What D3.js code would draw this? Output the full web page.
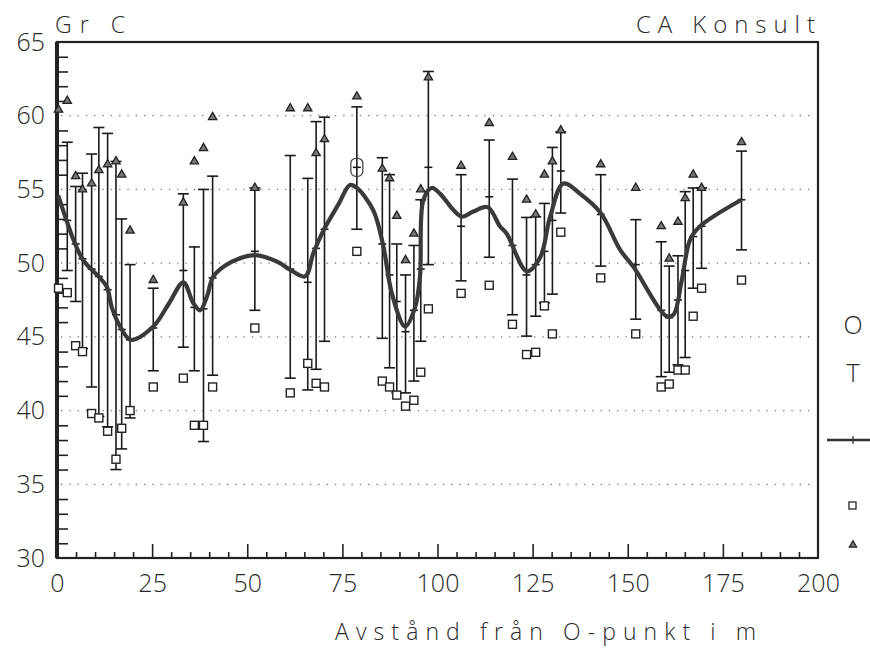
<!DOCTYPE html>
<html lang="sv">
<head>
  <meta charset="UTF-8">
  <title>Gr C</title>
  <style>
    body { margin: 0; background: #fff; }
    text { font-family: "Open Sans", "DejaVu Sans", sans-serif; font-weight: 300; fill: #2a2a2a; }
  </style>
</head>
<body>
  <svg id="svg" width="870" height="649"></svg>
  <script src="https://d3js.org/d3.v7.min.js"></script>
  <script>
    // stations along the line (m)
    const stationX = [0.4, 2.7, 4.9, 6.7, 9.1, 11.0, 13.3, 15.5, 17.0, 19.2, 25.3, 33.2, 36.1, 38.5, 40.9,
      52.0, 61.3, 65.9, 68.1, 70.3, 78.8, 85.5, 87.4, 89.3, 91.6, 93.8, 95.6, 97.6, 106.2, 113.6,
      119.7, 123.4, 125.8, 128.1, 130.2, 132.4, 142.9, 152.1, 158.8, 160.9, 163.2, 165.1, 167.2, 169.4, 179.9]
    const barHigh = [null, 58.2, 55.2, 56.1, 57.4, 59.2, 58.8, 56.9, 53.0, 49.9, 48.3, 54.7, 51.1, 55.0, 55.9,
      55.1, 57.3, 55.75, 59.6, 59.9, 60.6, 57.15, 56.0, 51.3, 49.2, 51.2, 54.3, 63.0, 56.0, 58.35,
      55.7, 53.1, 53.15, 54.05, 57.85, 58.9, 56.0, 52.95, 51.45, 49.8, 50.5, 54.85, 55.1, 55.1, 57.6]
    const barLow = [null, 49.5, 47.4, 44.2, 41.6, 39.6, 38.9, 36.0, 37.4, 39.5, 42.7, 44.3, 42.7, 37.9, 42.4,
      46.8, 42.2, 41.4, 42.8, 44.7, 52.3, 44.9, 42.9, 41.2, 41.2, 42.0, 44.7, 49.9, 48.8, 50.4,
      46.5, 45.05, 46.4, 47.3, 47.9, 53.4, 49.8, 46.2, 42.3, 42.6, 43.1, 43.6, 48.3, 49.65, 50.9]
    const barMid = [null, 52.9, 51.3, 50.3, 49.6, 49.1, 48.2, 46.5, 45.5, 44.8, 45.6, 49.5, 47.0, 46.9, 49.0,
      50.8, 49.6, 48.7, 51.0, 52.3, 56.5, 51.3, 49.2, 47.4, 45.35, 46.8, 49.6, 56.5, 52.5, 54.5,
      51.2, 49.2, 49.9, 50.8, 52.9, 56.25, 53.3, 49.9, 46.8, 46.3, 47.5, 49.5, 51.8, 52.5, 54.3]
    const triVal = [60.4, 61.0, 55.9, 55.0, 55.4, 56.3, 56.7, 56.9, 56.0, 52.2, 48.85, 54.1, 56.9, 57.8, 59.9,
      55.1, 60.5, 60.5, 57.45, 58.4, 61.3, 56.4, 55.75, 53.2, 50.2, 52.0, 55.0, 62.6, 56.6, 59.5,
      57.2, 54.3, 53.3, 56.0, 56.9, 59.0, 56.7, 55.1, 52.5, 50.3, 52.8, 54.4, 56.0, 55.1, 58.2]
    const sqVal = [48.3, 48.0, 44.4, 44.0, 39.8, 39.5, 38.6, 36.7, 38.8, 40.0, 41.6, 42.2, 39.0, 39.0, 41.6,
      45.6, 41.2, 43.2, 41.85, 41.6, 50.8, 42.0, 41.6, 41.05, 40.3, 40.7, 42.6, 46.9, 47.95, 48.5,
      45.85, 43.8, 43.95, 47.1, 45.2, 52.1, 49.0, 45.2, 41.6, 41.8, 42.75, 42.75, 46.4, 48.3, 48.85]

    // smoothed curve
    const curveX = [0.3, 2.5, 4.3, 6.9, 10.9, 13.1, 14.4, 16.6, 19.4, 25.3, 29.5, 33.2, 35.8, 37.6, 39.5, 41.1,
      46, 52.0, 56, 58.6, 61.0, 65.2, 67.4, 70.0, 74, 77.0, 78.8, 83.1, 85.8, 88.0, 91.5, 94.1, 95.4,
      96.3, 98.5, 100.7, 104.2, 106.5, 109.4, 113.2, 116.4, 118.2, 123.5, 127.0, 129.6, 133.1, 137.5,
      142.9, 148, 151.5, 160.2, 162, 164.2, 166.4, 169, 179.9]
    const curveVal = [54.6, 52.9, 51.6, 50.2, 49.1, 48.4, 47.0, 45.7, 44.8, 45.7, 47.3, 48.7, 47.3, 46.8, 47.8, 49.1,
      50.1, 50.55, 50.3, 50.0, 49.6, 49.1, 50.7, 52.2, 54.0, 55.3, 55.1, 53.6, 51.1, 47.95, 45.7, 47.0, 49.1,
      54.3, 55.1, 54.7, 53.6, 53.15, 53.5, 53.8, 52.5, 52.0, 49.45, 50.4, 53.15, 55.4, 54.7,
      53.4, 50.9, 49.75, 46.4, 46.5, 48.85, 51.6, 52.5, 54.3]

    const oMarkX = [78.8]
    const oMarkVal = [56.5]

    const xTicks = [0, 25, 50, 75, 100, 125, 150, 175, 200]
    const yTicks = [30, 35, 40, 45, 50, 55, 60, 65]
    const gridVals = [35, 40, 45, 50, 55, 60]

    const svg = d3.select('#svg')
    const x = d3.scaleLinear().domain([0, 200]).range([57, 818])
    const y = d3.scaleLinear().domain([30, 65]).range([558, 42])

    // dotted grid
    svg.append('g').selectAll('line').data(gridVals).join('line')
      .attr('x1', x(0) + 4).attr('x2', x(200) - 4)
      .attr('y1', d => y(d)).attr('y2', d => y(d))
      .attr('stroke', '#777').attr('stroke-width', 1.2)
      .attr('stroke-dasharray', '1.3,7')

    // minor y ticks (not at multiples of 5)
    const yMinor = d3.range(31, 65).filter(v => v % 5 !== 0)
    svg.append('g')
      .attr('transform', `translate(${x(0)},0)`)
      .call(d3.axisRight(y).tickValues(yMinor).tickSize(11).tickFormat(''))
      .call(g => g.select('.domain').remove())
      .selectAll('line').attr('stroke', '#222').attr('stroke-width', 1.6)

    // x ticks: minor every 5, major every 25
    const xMinor = d3.range(5, 200, 5).filter(v => v % 25 !== 0)
    svg.append('g')
      .attr('transform', `translate(0,${y(30)})`)
      .call(d3.axisTop(x).tickValues(xMinor).tickSize(6).tickFormat(''))
      .call(g => g.select('.domain').remove())
      .selectAll('line').attr('stroke', '#222').attr('stroke-width', 1.6)
    svg.append('g')
      .attr('transform', `translate(0,${y(30)})`)
      .call(d3.axisTop(x).tickValues(d3.range(25, 200, 25)).tickSize(14).tickFormat(''))
      .call(g => g.select('.domain').remove())
      .selectAll('line').attr('stroke', '#222').attr('stroke-width', 1.6)

    // tick labels
    svg.append('g')
      .attr('transform', `translate(0,${y(30)})`)
      .call(d3.axisBottom(x).tickValues(xTicks).tickSize(0).tickPadding(16))
      .call(g => g.select('.domain').remove())
      .selectAll('text').attr('font-size', 25).attr('fill', '#2a2a2a')
      .attr('font-family', '"Open Sans", sans-serif').attr('font-weight', 300)
    svg.append('g')
      .attr('transform', `translate(${x(0)},0)`)
      .call(d3.axisLeft(y).tickValues(yTicks).tickSize(0).tickPadding(12))
      .call(g => g.select('.domain').remove())
      .selectAll('text').attr('font-size', 25).attr('fill', '#2a2a2a')
      .attr('font-family', '"Open Sans", sans-serif').attr('font-weight', 300)

    // frame
    svg.append('rect')
      .attr('x', x(0)).attr('y', y(65))
      .attr('width', x(200) - x(0)).attr('height', y(30) - y(65))
      .attr('fill', 'none').attr('stroke', '#222').attr('stroke-width', 2.2)
    svg.append('line')
      .attr('x1', x(0)).attr('x2', x(0)).attr('y1', y(65)).attr('y2', y(30))
      .attr('stroke', '#222').attr('stroke-width', 4)

    const idx = d3.range(stationX.length)

    // error bars
    const bars = svg.append('g').attr('stroke', '#1a1a1a').attr('stroke-width', 1.6)
    const withBar = idx.filter(i => barHigh[i] != null)
    bars.selectAll('.v').data(withBar).join('line')
      .attr('x1', i => x(stationX[i])).attr('x2', i => x(stationX[i]))
      .attr('y1', i => y(barHigh[i])).attr('y2', i => y(barLow[i]))
    bars.selectAll('.t').data(withBar).join('line')
      .attr('x1', i => x(stationX[i]) - 5.5).attr('x2', i => x(stationX[i]) + 5.5)
      .attr('y1', i => y(barHigh[i])).attr('y2', i => y(barHigh[i]))
    bars.selectAll('.b').data(withBar).join('line')
      .attr('x1', i => x(stationX[i]) - 5.5).attr('x2', i => x(stationX[i]) + 5.5)
      .attr('y1', i => y(barLow[i])).attr('y2', i => y(barLow[i]))
    bars.selectAll('.m').data(withBar).join('line')
      .attr('x1', i => x(stationX[i]) - 4).attr('x2', i => x(stationX[i]) + 4)
      .attr('y1', i => y(barMid[i])).attr('y2', i => y(barMid[i]))

    // smoothed line
    const line = d3.line()
      .x((d, i) => x(curveX[i]))
      .y(d => y(d))
      .curve(d3.curveCatmullRom.alpha(0.5))
    svg.append('path')
      .attr('d', line(curveVal))
      .attr('fill', 'none').attr('stroke', '#3a3a3a').attr('stroke-width', 4.2)
      .attr('stroke-linejoin', 'round')

    // squares
    svg.append('g').selectAll('rect').data(idx).join('rect')
      .attr('x', i => x(stationX[i]) - 4).attr('y', i => y(sqVal[i]) - 4)
      .attr('width', 8).attr('height', 8)
      .attr('fill', '#fff').attr('stroke', '#222').attr('stroke-width', 1.4)

    // triangles
    const tri = d3.symbol().type(d3.symbolTriangle).size(30)
    svg.append('g').selectAll('path').data(idx).join('path')
      .attr('d', tri)
      .attr('transform', i => `translate(${x(stationX[i])},${y(triVal[i])})`)
      .attr('fill', '#777').attr('stroke', '#222').attr('stroke-width', 1.3)

    // O marker
    svg.append('g').selectAll('rect').data(oMarkX).join('rect')
      .attr('x', (d, i) => x(d) - 6).attr('y', (d, i) => y(oMarkVal[i]) - 9)
      .attr('width', 12).attr('height', 18).attr('rx', 5)
      .attr('fill', 'none').attr('stroke', '#444').attr('stroke-width', 1.3)

    // titles
    svg.append('text').attr('x', 55).attr('y', 33)
      .attr('font-size', 23).attr('textLength', 70).attr('lengthAdjust', 'spacing').text('Gr C')
    svg.append('text').attr('x', 636).attr('y', 33)
      .attr('font-size', 24).attr('textLength', 179).attr('lengthAdjust', 'spacing').text('CA Konsult')
    svg.append('text').attr('x', 335).attr('y', 640)
      .attr('font-size', 23).attr('textLength', 421).attr('lengthAdjust', 'spacing')
      .text('Avstånd från O-punkt i m')

    // legend
    const lg = svg.append('g')
    lg.append('text').attr('x', 853).attr('y', 334).attr('text-anchor', 'middle')
      .attr('font-size', 25).text('O')
    lg.append('text').attr('x', 853).attr('y', 382).attr('text-anchor', 'middle')
      .attr('font-size', 25).text('T')
    lg.append('line').attr('x1', 827).attr('x2', 870).attr('y1', 440).attr('y2', 440)
      .attr('stroke', '#333').attr('stroke-width', 2.5)
    lg.append('line').attr('x1', 853).attr('x2', 853).attr('y1', 436).attr('y2', 444)
      .attr('stroke', '#333').attr('stroke-width', 1.3)
    lg.append('rect').attr('x', 849).attr('y', 502).attr('width', 7).attr('height', 7)
      .attr('fill', 'none').attr('stroke', '#222').attr('stroke-width', 1.3)
    lg.append('path').attr('d', d3.symbol().type(d3.symbolTriangle).size(24))
      .attr('transform', 'translate(853,545)')
      .attr('fill', '#777').attr('stroke', '#222').attr('stroke-width', 1.2)
  </script>
</body>
</html>
